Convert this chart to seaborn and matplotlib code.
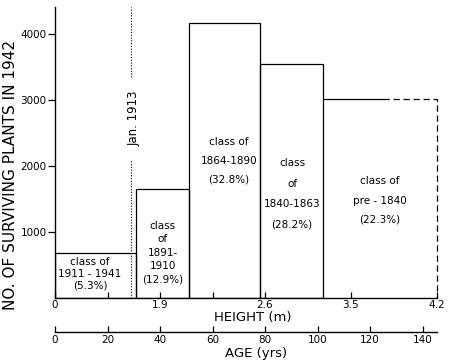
import numpy as np
import pandas as pd
import matplotlib
matplotlib.use("Agg")
import matplotlib.pyplot as plt
import seaborn as sns

# ---- data ----
age_edges = [0, 31, 51, 78, 102, 145.5]
plant_counts = [680, 1640, 4160, 3550, 3010]
class_texts = [
    "class of\n1911 - 1941\n(5.3%)",
    "class\nof\n1891-\n1910\n(12.9%)",
    "class of\n1864-1890\n(32.8%)",
    "class\nof\n1840-1863\n(28.2%)",
    "class of\npre - 1840\n(22.3%)",
]
height_tick_ages = [0, 40, 80, 112.6, 145.5]
height_tick_labels = ["0", "1.9", "2.6", "3.5", "4.2"]
height_minor_ages = [20, 60]
age_ticks = [0, 20, 40, 60, 80, 100, 120, 140]
y_ticks = [1000, 2000, 3000, 4000]
jan1913_age = 29
dash_start_age = 125

sns.set_style("ticks", {"axes.edgecolor": "black", "text.color": "black",
                        "xtick.color": "black", "ytick.color": "black",
                        "axes.labelcolor": "black"})
plt.rcParams["font.family"] = ["DejaVu Sans"]

fig = plt.figure(figsize=(4.5, 3.62), dpi=100)
ax = fig.add_axes([55 / 450, 1 - 297.5 / 362, (437 - 55) / 450, (297.5 - 7) / 362])

mids = [(a + b) / 2 for a, b in zip(age_edges[:-1], age_edges[1:])]
df = pd.DataFrame({"age": mids, "count": plant_counts})
sns.histplot(data=df, x="age", weights="count", bins=age_edges, fill=False,
             color="black", linewidth=0.9, ax=ax)
ax.patches[-1].set_visible(False)
# last (open) class: solid then dashed
ax.plot([age_edges[4], dash_start_age], [plant_counts[4]] * 2, color="black", lw=0.9)
ax.plot([dash_start_age, age_edges[5], age_edges[5]], [plant_counts[4], plant_counts[4], 0],
        color="black", lw=0.9, ls=(0, (5, 3)), clip_on=False)

ax.set_xlim(age_edges[0], age_edges[-1])
ax.set_ylim(0, 4410)
ax.set_xlabel("")
ax.set_ylabel("")
sns.despine(ax=ax)
for s in ["left", "bottom"]:
    ax.spines[s].set_linewidth(1.0)

ax.set_yticks(y_ticks)
ax.set_yticklabels([str(v) for v in y_ticks])
ax.tick_params(axis="y", direction="out", length=5, width=0.9, labelsize=7.5, pad=1, colors="black")
ax.set_xticks(height_tick_ages)
ax.set_xticklabels(height_tick_labels)
ax.set_xticks(height_minor_ages, minor=True)
ax.tick_params(axis="x", which="both", direction="in", length=4, width=0.9, labelsize=7.5, pad=2,
               colors="black")

sec = ax.secondary_xaxis(-0.12)
sec.set_xticks(age_ticks)
sec.set_xticklabels([str(v) for v in age_ticks])
sec.tick_params(direction="in", length=4, width=0.9, labelsize=7.5, pad=2, colors="black")
sec.spines["bottom"].set_linewidth(1.0)
sec.spines["bottom"].set_color("black")

# Jan. 1913 dotted line with label gap
ax.plot([jan1913_age] * 2, [0, 2086], color="black", lw=0.8, ls=(0, (1, 1.5)))
ax.plot([jan1913_age] * 2, [3346, 4410], color="black", lw=0.8, ls=(0, (1, 1.5)))
ax.text(jan1913_age + 1, 2716, "Jan. 1913", rotation=90, ha="center", va="center", fontsize=8.5)

# class labels
text_pos = [(13.3, 357, 1.2), (41.1, 683, 1.42), (66.3, 2071, 2.1), (90.3, 1570, 2.3), (123.8, 1472, 2.16)]
for (x, y, ls), t in zip(text_pos, class_texts):
    ax.text(x, y, t, ha="center", va="center", fontsize=7.5, linespacing=ls, multialignment="center")

fig.text(253 / 450, 1 - 318 / 362, "HEIGHT (m)", ha="center", va="center", fontsize=9.5)
fig.text(256 / 450, 1 - 353 / 362, "AGE (yrs)", ha="center", va="center", fontsize=9.5)
fig.text(11 / 450, 1 - 175 / 362, "NO. OF SURVIVING PLANTS IN 1942", rotation=90,
         ha="center", va="center", fontsize=11)

fig.savefig("out.png", dpi=100)
